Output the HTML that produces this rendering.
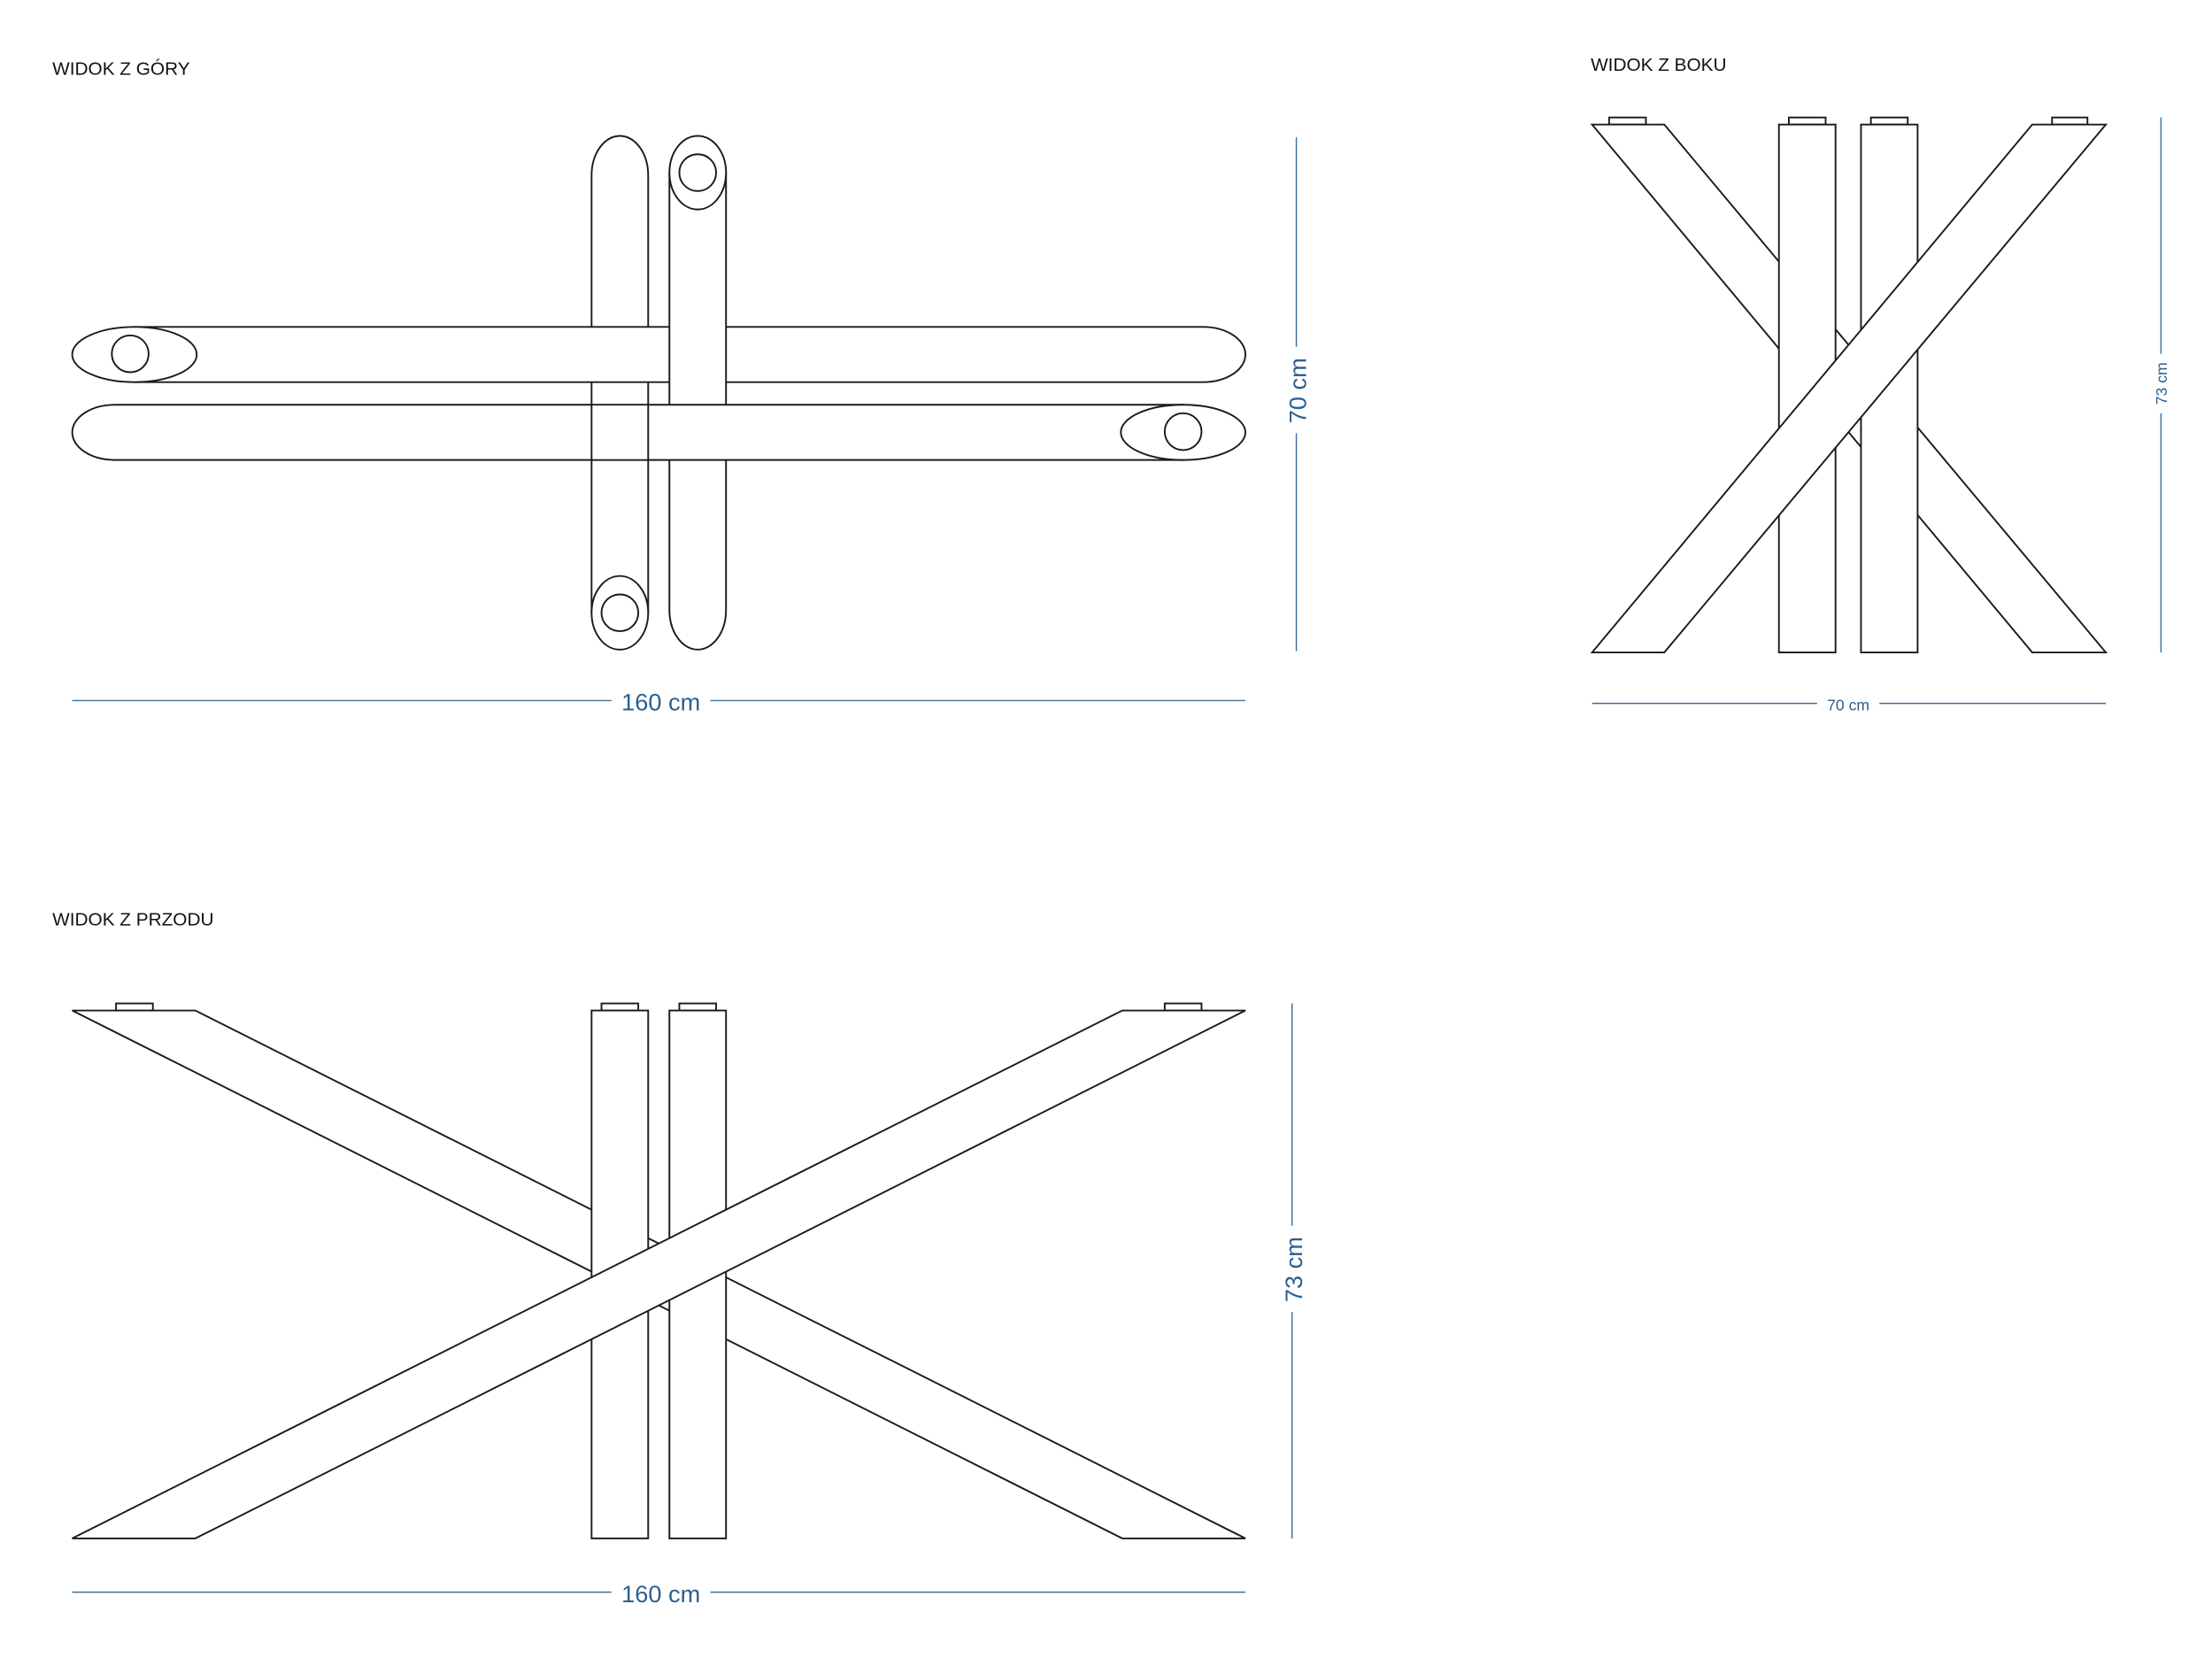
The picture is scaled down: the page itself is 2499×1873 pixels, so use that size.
<!DOCTYPE html>
<html><head><meta charset="utf-8"><style>
html,body{margin:0;padding:0;background:#fff;}
svg{display:block;}
text{font-family:"Liberation Sans",sans-serif;}
</style></head><body>
<svg width="2499" height="1873" viewBox="0 0 1563 1171.5" xmlns="http://www.w3.org/2000/svg">
<g fill="#fff" stroke="#1a1a1a" stroke-width="1.2">
<!-- TOP VIEW -->
<path d="M418,433 V124 A20,28 0 0 1 458,124 V433 Z"/>
<path d="M95,231 H850 A30,19.5 0 0 1 850,270 H95 Z"/>
<ellipse cx="95" cy="250.5" rx="44" ry="19.5"/>
<circle cx="92" cy="250" r="13"/>
<path d="M473,122 V431 A20,28 0 0 0 513,431 V122 Z"/>
<ellipse cx="493" cy="122" rx="20" ry="26"/>
<circle cx="493" cy="122" r="13"/>
<path d="M836,286 H81 A30,19.5 0 0 0 81,325 H836 Z"/>
<ellipse cx="836" cy="305.5" rx="44" ry="19.5"/>
<circle cx="836" cy="305" r="13"/>
<rect x="418.6" y="286.6" width="38.8" height="37.8" stroke="none"/>
<line x1="418" y1="286" x2="418" y2="325"/>
<line x1="458" y1="286" x2="458" y2="325"/>
<ellipse cx="438" cy="433" rx="20" ry="26"/>
<circle cx="438" cy="433" r="13"/>

<!-- SIDE VIEW -->
<rect x="1137" y="83" width="26" height="5"/>
<rect x="1264" y="83" width="26" height="5"/>
<rect x="1322" y="83" width="26" height="5"/>
<rect x="1450" y="83" width="25" height="5"/>
<polygon points="1125,88 1176,88 1488,461 1436,461"/>
<rect x="1257" y="88" width="40" height="373"/>
<rect x="1315" y="88" width="40" height="373"/>
<polygon points="1436,88 1488,88 1176,461 1125,461"/>

<!-- FRONT VIEW -->
<rect x="82" y="709" width="26" height="5"/>
<rect x="425" y="709" width="26" height="5"/>
<rect x="480" y="709" width="26" height="5"/>
<rect x="823" y="709" width="26" height="5"/>
<polygon points="51,714 138,714 880,1087 793,1087"/>
<rect x="418" y="714" width="40" height="373"/>
<rect x="473" y="714" width="40" height="373"/>
<polygon points="793,714 880,714 138,1087 51,1087"/>
</g>

<g stroke="#3a6f9c" stroke-width="0.9">
<line x1="51" y1="495" x2="432" y2="495"/><line x1="502" y1="495" x2="880" y2="495"/>
<line x1="916" y1="97" x2="916" y2="245"/><line x1="916" y1="306" x2="916" y2="460"/>
<line x1="1125" y1="497" x2="1284" y2="497"/><line x1="1328" y1="497" x2="1488" y2="497"/>
<line x1="1527" y1="83" x2="1527" y2="250"/><line x1="1527" y1="292" x2="1527" y2="461"/>
<line x1="51" y1="1125" x2="432" y2="1125"/><line x1="502" y1="1125" x2="880" y2="1125"/>
<line x1="913" y1="709" x2="913" y2="866"/><line x1="913" y1="927" x2="913" y2="1087"/>
</g>
<g fill="#2b6090">
<text x="467" y="502" font-size="17" text-anchor="middle">160 cm</text>
<text x="467" y="1132" font-size="17" text-anchor="middle">160 cm</text>
<text x="1306" y="502" font-size="11" text-anchor="middle">70 cm</text>
<text transform="translate(923,276) rotate(-90)" font-size="17" text-anchor="middle">70 cm</text>
<text transform="translate(920,897) rotate(-90)" font-size="17" text-anchor="middle">73 cm</text>
<text transform="translate(1531,271) rotate(-90)" font-size="11" text-anchor="middle">73 cm</text>
</g>
<g fill="#111" font-size="13">
<text x="37" y="53">WIDOK Z GÓRY</text>
<text x="1124" y="50">WIDOK Z BOKU</text>
<text x="37" y="654">WIDOK Z PRZODU</text>
</g>
</svg>
</body></html>
